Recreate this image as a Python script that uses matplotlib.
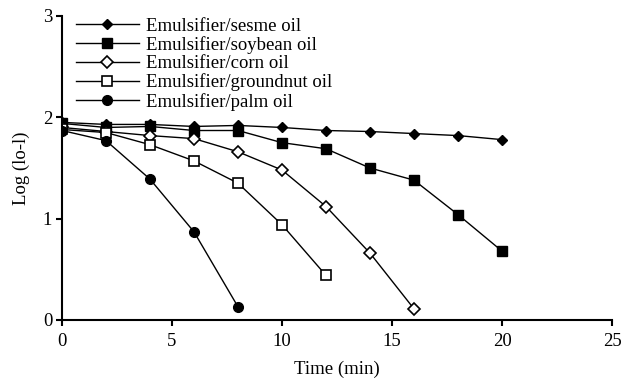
import matplotlib
matplotlib.use("Agg")
import matplotlib.pyplot as plt

plt.rcParams['font.family'] = ['Liberation Serif', 'DejaVu Serif']

time_sesame = [0, 2, 4, 6, 8, 10, 12, 14, 16, 18, 20]
sesame = [1.95, 1.93, 1.93, 1.91, 1.92, 1.90, 1.87, 1.86, 1.84, 1.82, 1.78]
time_soy = [0, 2, 4, 6, 8, 10, 12, 14, 16, 18, 20]
soybean = [1.94, 1.90, 1.91, 1.87, 1.87, 1.75, 1.69, 1.50, 1.38, 1.04, 0.68]
time_corn = [0, 2, 4, 6, 8, 10, 12, 14, 16]
corn = [1.90, 1.86, 1.82, 1.79, 1.66, 1.48, 1.12, 0.66, 0.11]
time_ground = [0, 2, 4, 6, 8, 10, 12]
groundnut = [1.88, 1.85, 1.73, 1.57, 1.35, 0.94, 0.44]
time_palm = [0, 2, 4, 6, 8]
palm = [1.87, 1.77, 1.39, 0.87, 0.13]

labels = ["Emulsifier/sesme oil", "Emulsifier/soybean oil", "Emulsifier/corn oil",
          "Emulsifier/groundnut oil", "Emulsifier/palm oil"]

FS = 13.5
fig = plt.figure(figsize=(6.21, 3.84), dpi=100)
ax = fig.add_axes([62/621, 1-320/384, (612-62)/621, (320-16)/384])

lw = 1.0
ax.plot(time_sesame, sesame, color='black', lw=lw, marker='D', ms=5, mfc='black', mec='black', label=labels[0])
ax.plot(time_soy, soybean, color='black', lw=lw, marker='s', ms=7.5, mfc='black', mec='black', label=labels[1])
ax.plot(time_corn, corn, color='black', lw=lw, marker='D', ms=6, mfc='white', mec='black', mew=1.2, label=labels[2])
ax.plot(time_ground, groundnut, color='black', lw=lw, marker='s', ms=7, mfc='white', mec='black', mew=1.2, label=labels[3])
ax.plot(time_palm, palm, color='black', lw=lw, marker='o', ms=7, mfc='black', mec='black', label=labels[4])

ax.set_xlim(0, 25)
ax.set_ylim(0, 3)
ax.set_xticks([0, 5, 10, 15, 20, 25])
ax.set_yticks([0, 1, 2, 3])
for s in ['top', 'right']:
    ax.spines[s].set_visible(False)
for s in ['left', 'bottom']:
    ax.spines[s].set_linewidth(1.5)
ax.tick_params(direction='out', length=4, width=1.5, labelsize=FS, pad=3)
ax.tick_params(axis='x', pad=5)
ax.set_xlabel("Time (min)", fontsize=FS, labelpad=8)
ax.set_ylabel("Log (lo-l)", fontsize=FS, labelpad=9)

leg = ax.legend(loc='upper left', bbox_to_anchor=(0.011, 1.02), frameon=False, fontsize=FS,
                handlelength=3.4, handletextpad=0.35, labelspacing=0.07, borderaxespad=0)

fig.savefig("out.png", dpi=100)
